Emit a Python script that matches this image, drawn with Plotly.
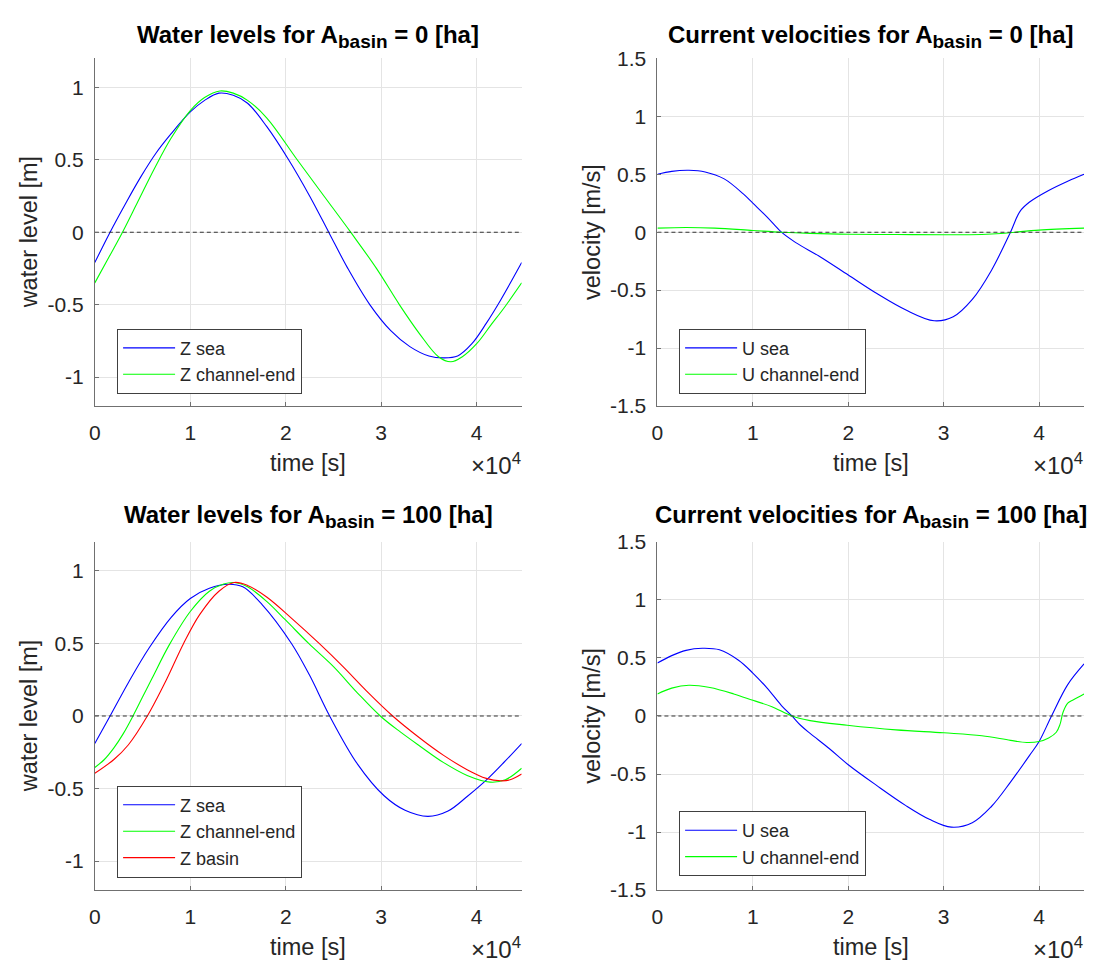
import plotly.graph_objects as go

FONT = "Liberation Sans, Arial, sans-serif"
INK = "#262626"
T_END = 44712  # one tidal period [s]

# ---------------- A_basin = 0 ha : water levels ----------------
t_z0_sea = [0, 1600, 3200, 4800, 6400, 8000, 10000, 11500, 13000, 14500, 16000, 18000,
            20300, 22500, 24500, 26500, 28800, 31000, 33000, 35000, 36500, 38000,
            39500, 41000, 42500, 44712]
z0_sea = [-0.21, 0.00, 0.195, 0.38, 0.545, 0.68, 0.83, 0.91, 0.96, 0.945, 0.89, 0.73,
          0.50, 0.25, 0.00, -0.25, -0.50, -0.68, -0.79, -0.855, -0.868, -0.855,
          -0.77, -0.63, -0.47, -0.21]

t_z0_end = [0, 1500, 2900, 4500, 6250, 8000, 10000, 11500, 13100, 14500, 16000, 18000,
            21200, 24000, 26800, 29500, 31900, 34000, 36000, 37300, 38500, 40000,
            41500, 42900, 44712]
z0_end = [-0.35, -0.17, 0.00, 0.21, 0.44, 0.65, 0.84, 0.93, 0.975, 0.96, 0.91, 0.79,
          0.50, 0.25, 0.00, -0.25, -0.50, -0.70, -0.86, -0.895, -0.86, -0.77,
          -0.64, -0.52, -0.35]

# ---------------- A_basin = 0 ha : velocities ----------------
t_u0_sea = [0, 1500, 3300, 5000, 7000, 9000, 10000, 11500, 13000, 14500, 17000, 20000,
            23000, 26000, 29000, 31000, 33000, 35000, 37000, 38000, 39000, 41000,
            43000, 44712]
u0_sea = [0.50, 0.525, 0.534, 0.52, 0.46, 0.33, 0.25, 0.13, 0.00, -0.09, -0.21, -0.37,
          -0.53, -0.67, -0.765, -0.73, -0.58, -0.33, 0.00, 0.18, 0.26, 0.36,
          0.44, 0.50]

t_u0_end = [0, 3000, 6000, 10000, 13000, 16000, 20000, 25000, 30000, 34000, 36000,
            37500, 40000, 44712]
u0_end = [0.035, 0.04, 0.035, 0.015, 0.00, -0.01, -0.018, -0.02, -0.022, -0.02, -0.012,
          0.00, 0.018, 0.035]

# ---------------- A_basin = 100 ha : water levels ----------------
t_z1_sea = [0, 1600, 3600, 5700, 8000, 10000, 12000, 14000, 15500, 17500, 20600, 22500,
            24600, 27500, 30300, 32500, 34900, 37000, 39000, 41200, 43000, 44712]
z1_sea = [-0.19, 0.00, 0.24, 0.47, 0.68, 0.81, 0.88, 0.908, 0.89, 0.77, 0.50, 0.28,
          0.00, -0.33, -0.55, -0.65, -0.692, -0.655, -0.555, -0.43, -0.31, -0.19]

t_z1_end = [0, 1000, 2000, 3000, 4000, 5000, 6000, 7800, 10000, 12000, 13500, 14600,
            16000, 18000, 20000, 22400, 25000, 27500, 29900, 32000, 34100, 36500,
            39000, 41400, 43000, 44712]
z1_end = [-0.355, -0.30, -0.22, -0.12, 0.00, 0.13, 0.26, 0.49, 0.72, 0.86, 0.91, 0.92,
          0.89, 0.79, 0.66, 0.50, 0.34, 0.16, 0.00, -0.11, -0.21, -0.32,
          -0.41, -0.456, -0.44, -0.36]

t_z1_basin = [0, 2000, 3500, 5500, 7500, 9300, 11000, 13000, 14600, 16000, 18000, 20500,
              23500, 26000, 28500, 31200, 34000, 36500, 39000, 41000, 42500, 43500, 44712]
z1_basin = [-0.395, -0.30, -0.20, 0.00, 0.25, 0.50, 0.70, 0.86, 0.92, 0.90, 0.82, 0.68,
            0.50, 0.34, 0.17, 0.00, -0.15, -0.27, -0.37, -0.43, -0.447, -0.44, -0.40]

# ---------------- A_basin = 100 ha : velocities ----------------
t_u1_sea = [0, 1500, 3000, 4700, 6500, 8500, 10000, 11500, 13000, 14100, 15000, 16000,
            18000, 20000, 23000, 26000, 28500, 30800, 33000, 35000, 37000, 39000,
            40000, 41300, 43000, 44712]
u1_sea = [0.456, 0.52, 0.565, 0.583, 0.57, 0.48, 0.37, 0.24, 0.09, 0.00, -0.08, -0.15,
          -0.28, -0.42, -0.60, -0.77, -0.89, -0.958, -0.92, -0.78, -0.57, -0.34,
          -0.22, 0.00, 0.27, 0.448]

t_u1_end = [0, 1500, 3300, 5500, 8000, 10000, 12000, 14100, 16000, 19900, 25000, 30000,
            34000, 37000, 38700, 40000, 41000, 41800, 42200, 42500, 43000, 43600, 44712]
u1_end = [0.19, 0.24, 0.265, 0.245, 0.19, 0.135, 0.08, 0.00, -0.04, -0.08, -0.12, -0.145,
          -0.17, -0.21, -0.228, -0.22, -0.19, -0.14, -0.07, 0.03, 0.11, 0.14, 0.19]

# ---------------- axes ticks ----------------
x_ticks = [0, 10000, 20000, 30000, 40000]
x_tick_labels = ["0", "1", "2", "3", "4"]
z_ticks = [-1, -0.5, 0, 0.5, 1]
z_tick_labels = ["-1", "-0.5", "0", "0.5", "1"]
u_ticks = [-1.5, -1, -0.5, 0, 0.5, 1, 1.5]
u_tick_labels = ["-1.5", "-1", "-0.5", "0", "0.5", "1", "1.5"]

W, H = 1097, 974


def px_x(p):
    return p / W


def px_y(p):
    return (H - p) / H


# panel geometry (pixels)
COLS = [(89.3, 518.5), (655.0, 1084.0)]
ROWS = [(47.5, 403.5), (542.7, 899.3)]
TITLE_Y = [25.5, 517.0]

fig = go.Figure()

panels = [
    # (axis suffix, col, row, series, ylabel, yrange, yticks, yticklabels, legend, legend corner px)
    ("", 0, 0, [(t_z0_sea, z0_sea, "Z sea", "#0000ff"),
                (t_z0_end, z0_end, "Z channel-end", "#00ff00")],
     "water level [m]", [-1.2, 1.2], z_ticks, z_tick_labels, "legend", (111.7, 324.3)),
    ("2", 1, 0, [(t_u0_sea, u0_sea, "U sea", "#0000ff"),
                 (t_u0_end, u0_end, "U channel-end", "#00ff00")],
     "velocity [m/s]", [-1.5, 1.5], u_ticks, u_tick_labels, "legend2", (676.8, 324.3)),
    ("3", 0, 1, [(t_z1_sea, z1_sea, "Z sea", "#0000ff"),
                 (t_z1_end, z1_end, "Z channel-end", "#00ff00"),
                 (t_z1_basin, z1_basin, "Z basin", "#ff0000")],
     "water level [m]", [-1.2, 1.2], z_ticks, z_tick_labels, "legend3", (111.7, 792.3)),
    ("4", 1, 1, [(t_u1_sea, u1_sea, "U sea", "#0000ff"),
                 (t_u1_end, u1_end, "U channel-end", "#00ff00")],
     "velocity [m/s]", [-1.5, 1.5], u_ticks, u_tick_labels, "legend4", (676.8, 818.3)),
]

titles = [
    "Water levels for A<sub>basin</sub> = 0 [ha]",
    "Current velocities for A<sub>basin</sub> = 0 [ha]",
    "Water levels for A<sub>basin</sub> = 100 [ha]",
    "Current velocities for A<sub>basin</sub> = 100 [ha]",
]

layout = dict(
    width=W, height=H, margin=dict(l=0, r=0, t=0, b=0),
    paper_bgcolor="white", plot_bgcolor="white",
    font=dict(family=FONT, color=INK),
    annotations=[],
)

for k, (suf, col, row, series, ylabel, yrange, yt, ytl, leg, legpos) in enumerate(panels):
    xa, ya = "x" + suf, "y" + suf
    x0, x1 = COLS[col]
    y0, y1 = ROWS[row]
    for t, v, name, color in series:
        fig.add_trace(go.Scatter(
            x=t, y=v, name=name, mode="lines", xaxis=xa, yaxis=ya, legend=leg,
            line=dict(color=color, width=1.1, shape="spline", smoothing=1.0),
        ))
    # zero reference line
    fig.add_trace(go.Scatter(
        x=[0, T_END], y=[0, 0], mode="lines", xaxis=xa, yaxis=ya, showlegend=False,
        line=dict(color="#333333", width=1.1, dash="4px,3px"), hoverinfo="skip",
    ))

    axis_common = dict(
        showline=True, linecolor="#707070", linewidth=1, mirror=False,
        ticks="inside", ticklen=4, tickcolor="#707070", tickwidth=1,
        showgrid=True, gridcolor="#e4e4e4", gridwidth=1, zeroline=False,
        tickfont=dict(size=21, family=FONT, color=INK),
    )
    layout["xaxis" + suf] = dict(
        axis_common, domain=[px_x(x0), px_x(x1)], range=[0, T_END],
        tickvals=x_ticks, ticktext=x_tick_labels, anchor=ya,
        ticklabelstandoff=8,
    )
    layout["yaxis" + suf] = dict(
        axis_common, domain=[px_y(y1), px_y(y0)], range=yrange,
        tickvals=yt, ticktext=ytl, anchor=xa, ticklabelstandoff=6,
    )
    layout[leg] = dict(
        x=px_x(legpos[0]), y=px_y(legpos[1]), xanchor="left", yanchor="top",
        xref="paper", yref="paper",
        bgcolor="white", bordercolor="#404040", borderwidth=1,
        font=dict(size=18, family=FONT, color=INK), itemwidth=52, tracegroupgap=0,
    )

    cx = (x0 + x1) / 2
    # panel title
    layout["annotations"].append(dict(
        text="<b>" + titles[k].replace("<sub>", "<sub><span style='font-size:19px'>")
                              .replace("</sub>", "</span></sub>") + "</b>",
        x=px_x(cx), y=px_y(TITLE_Y[row]), xref="paper", yref="paper",
        xanchor="center", yanchor="middle", showarrow=False,
        font=dict(size=24, family=FONT, color="black"),
    ))
    # x axis label
    layout["annotations"].append(dict(
        text="time [s]", x=px_x(cx), y=px_y(y1 + 58.5), xref="paper", yref="paper",
        xanchor="center", yanchor="middle", showarrow=False,
        font=dict(size=23.5, family=FONT, color=INK),
    ))
    # exponent of the time axis
    layout["annotations"].append(dict(
        text="×10<sup>4</sup>", x=px_x(x1 + 1), y=px_y(y1 + 59), xref="paper", yref="paper",
        xanchor="right", yanchor="middle", showarrow=False,
        font=dict(size=24, family=FONT, color=INK),
    ))
    # y axis label
    layout["annotations"].append(dict(
        text=ylabel, x=px_x(x0 - 66), y=px_y((y0 + y1) / 2), xref="paper", yref="paper",
        xanchor="center", yanchor="middle", textangle=-90, showarrow=False,
        font=dict(size=23.5, family=FONT, color=INK),
    ))

fig.update_layout(**layout)
fig.write_html("out.html")
